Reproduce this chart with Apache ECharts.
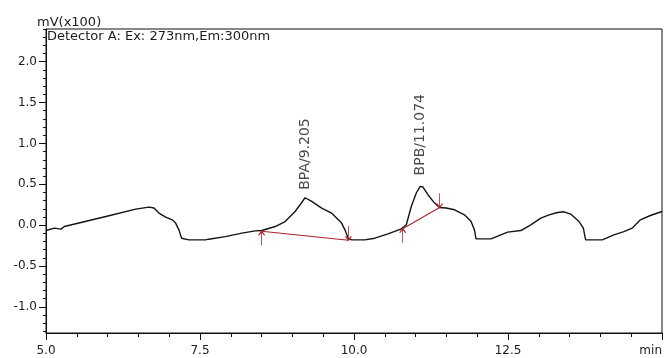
<!DOCTYPE html>
<html>
<head>
<meta charset="utf-8">
<title>Chromatogram</title>
<script src="https://cdn.jsdelivr.net/npm/echarts@6/dist/echarts.min.js"></script>
<style>
  html, body { margin: 0; padding: 0; background: #ffffff; }
  #chart { width: 665px; height: 358px; }
</style>
</head>
<body>
<div id="chart"></div>
<script>
// Fluorescence detector trace (retention time in min, signal in mV x100)
const retentionTime = [
  5.000, 5.136, 5.244, 5.298, 5.972, 6.457, 6.672, 6.753, 6.834, 6.942,
  7.049, 7.104, 7.158, 7.201, 7.319, 7.589, 7.642, 7.912, 8.181, 8.397,
  8.504, 8.721, 8.882, 9.044, 9.125, 9.205, 9.313, 9.475, 9.636, 9.798,
  9.853, 9.906, 9.960, 10.176, 10.338, 10.553, 10.768, 10.849, 10.930, 11.011,
  11.074, 11.119, 11.200, 11.308, 11.389, 11.496, 11.632, 11.793, 11.901, 11.955,
  11.981, 12.223, 12.385, 12.494, 12.709, 12.870, 13.032, 13.168, 13.302, 13.410,
  13.517, 13.653, 13.723, 13.760, 14.030, 14.219, 14.381, 14.515, 14.649, 14.811,
  15.000
];
const signal = [
  -0.066, -0.037, -0.049, -0.017, 0.106, 0.196, 0.221, 0.209, 0.147, 0.098,
  0.065, 0.025, -0.058, -0.160, -0.180, -0.180, -0.172, -0.140, -0.098, -0.070,
  -0.066, -0.017, 0.044, 0.167, 0.249, 0.335, 0.290, 0.209, 0.147, 0.025,
  -0.058, -0.160, -0.180, -0.180, -0.160, -0.107, -0.045, 0.004, 0.228, 0.393,
  0.474, 0.466, 0.372, 0.270, 0.216, 0.209, 0.188, 0.126, 0.044, -0.058,
  -0.168, -0.168, -0.119, -0.086, -0.066, 0.004, 0.086, 0.126, 0.155, 0.163,
  0.135, 0.044, -0.037, -0.180, -0.180, -0.119, -0.079, -0.037, 0.065, 0.118,
  0.167
];

// Identified peaks
const peakNames = ['BPA', 'BPB'];
const peakTimes = [9.205, 11.074];

// Integration baselines (start / end of each peak)
const bpaBaselineTime = [8.50, 9.91];
const bpaBaselineSignal = [-0.075, -0.185];
const bpbBaselineTime = [10.79, 11.39];
const bpbBaselineSignal = [-0.045, 0.215];

// Axis ticks and labels
const xMajorTicks = [5.0, 7.5, 10.0, 12.5, 15.0];
const xTickLabels = ['5.0', '7.5', '10.0', '12.5', 'min'];
const yMajorTicks = [-1.0, -0.5, 0.0, 0.5, 1.0, 1.5, 2.0];
const yTickLabels = ['-1.0', '-0.5', '0.0', '0.5', '1.0', '1.5', '2.0'];
const xRange = [5, 15];
const yRange = [-1.32, 2.4];

const xMinorTicks = [];
for (let k = 10; k <= 30; k++) xMinorTicks.push(k / 2);
const yMinorTicks = [];
for (let k = -13; k <= 24; k++) yMinorTicks.push(k / 10);

const FONT = 'DejaVu Sans';
const INK = '#1c1c1c';
const BASE_RED = '#a8262b';

// Arrow markers: tip sits on the baseline end point
const ARROW_UP = 'path://M3,0L3,14M0,4L3,0L6,4';
const ARROW_DOWN = 'path://M3,14L3,0M0,10L3,14L6,10';

function baselineData(times, values) {
  return [
    { value: [times[0], values[0]], symbol: ARROW_UP, symbolOffset: [0, 7] },
    { value: [times[1], values[1]], symbol: ARROW_DOWN, symbolOffset: [0, -7] }
  ];
}

const peakData = peakTimes.map((t, i) => ({
  name: peakNames[i],
  value: [t, signal[retentionTime.indexOf(t)]],
  label: { distance: i === 0 ? 8 : 11 }
}));

const chart = echarts.init(document.getElementById('chart'), null, { renderer: 'canvas' });

chart.setOption({
  animation: false,
  backgroundColor: '#ffffff',
  title: [
    {
      text: 'mV(x100)', left: 37, top: 16, padding: 0,
      textStyle: { fontFamily: FONT, fontSize: 13, fontWeight: 'normal', color: INK }
    },
    {
      text: 'Detector A: Ex: 273nm,Em:300nm', left: 47, top: 30, padding: 0,
      textStyle: { fontFamily: FONT, fontSize: 13, fontWeight: 'normal', color: INK }
    }
  ],
  grid: {
    left: 46, right: 1, top: 29, bottom: 25,
    show: true, borderColor: '#111', borderWidth: 1, backgroundColor: 'transparent'
  },
  xAxis: [
    {
      type: 'value', position: 'bottom', min: xRange[0], max: xRange[1],
      axisLine: { show: true, onZero: false, lineStyle: { color: '#111', width: 1 } },
      axisTick: { show: true, customValues: xMajorTicks, length: 7, lineStyle: { color: '#111' } },
      axisLabel: {
        customValues: xMajorTicks,
        formatter: v => xTickLabels[xMajorTicks.indexOf(v)],
        alignMaxLabel: 'right',
        margin: 12, fontFamily: FONT, fontSize: 12, color: INK
      },
      splitLine: { show: false }
    },
    {
      type: 'value', position: 'bottom', min: xRange[0], max: xRange[1],
      axisLine: { show: false, onZero: false },
      axisTick: { show: true, customValues: xMinorTicks, length: 4, lineStyle: { color: '#111' } },
      axisLabel: { show: false },
      splitLine: { show: false }
    }
  ],
  yAxis: [
    {
      type: 'value', position: 'left', min: yRange[0], max: yRange[1],
      axisLine: { show: true, onZero: false, lineStyle: { color: '#111', width: 1 } },
      axisTick: { show: true, customValues: yMajorTicks, length: 7, lineStyle: { color: '#111' } },
      axisLabel: {
        customValues: yMajorTicks,
        formatter: v => yTickLabels[yMajorTicks.indexOf(v)],
        margin: 9, fontFamily: FONT, fontSize: 12, color: INK
      },
      splitLine: { show: false }
    },
    {
      type: 'value', position: 'left', min: yRange[0], max: yRange[1],
      axisLine: { show: false, onZero: false },
      axisTick: { show: true, customValues: yMinorTicks, length: 3, lineStyle: { color: '#111' } },
      axisLabel: { show: false },
      splitLine: { show: false }
    }
  ],
  series: [
    {
      name: 'Detector A: Ex: 273nm,Em:300nm',
      type: 'line',
      xAxisIndex: 0, yAxisIndex: 0,
      data: retentionTime.map((t, i) => [t, signal[i]]),
      symbol: 'none',
      lineStyle: { color: '#141414', width: 1.4 },
      z: 2
    },
    {
      name: 'BPA baseline',
      type: 'line',
      data: baselineData(bpaBaselineTime, bpaBaselineSignal),
      showSymbol: true,
      symbolSize: [6, 14],
      itemStyle: { color: 'none', borderColor: BASE_RED, borderWidth: 1.2 },
      lineStyle: { color: BASE_RED, width: 1.2 },
      z: 3
    },
    {
      name: 'BPB baseline',
      type: 'line',
      data: baselineData(bpbBaselineTime, bpbBaselineSignal),
      showSymbol: true,
      symbolSize: [6, 14],
      itemStyle: { color: 'none', borderColor: BASE_RED, borderWidth: 1.2 },
      lineStyle: { color: BASE_RED, width: 1.2 },
      z: 3
    },
    {
      name: 'Peaks',
      type: 'scatter',
      data: peakData,
      symbolSize: 0,
      label: {
        show: true,
        position: 'top',
        rotate: 90,
        align: 'left',
        verticalAlign: 'middle',
        formatter: p => p.name + '/' + p.value[0].toFixed(3),
        fontFamily: FONT, fontSize: 14, color: INK
      },
      z: 4
    }
  ]
});
</script>
</body>
</html>
